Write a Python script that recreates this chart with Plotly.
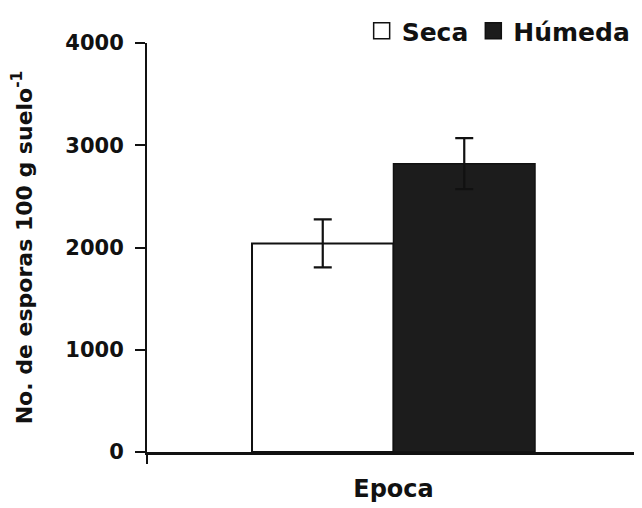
import plotly.graph_objects as go

# Data
categories = ["Epoca"]
series_names = ["Seca", "Húmeda"]
seca_values = [2040]
humeda_values = [2820]
seca_err = [235]
humeda_err = [250]
y_tickvals = [0, 1000, 2000, 3000, 4000]
y_ticktext = ["0", "1000", "2000", "3000", "4000"]
x_title = "Epoca"
y_title = "No. de esporas 100 g suelo<sup>-1</sup>"

FONT = "DejaVu Sans"
INK = "#111111"
SECA_FILL = "white"
HUMEDA_FILL = "#1c1c1c"

fig = go.Figure()
fig.add_trace(go.Bar(
    x=[0], y=seca_values, name=series_names[0], showlegend=False, legendgroup="s",
    marker=dict(color=SECA_FILL, line=dict(color=INK, width=2)),
    error_y=dict(type="data", array=seca_err, visible=True, color=INK, thickness=2.2, width=9),
))
fig.add_trace(go.Bar(
    x=[0], y=humeda_values, name=series_names[1], showlegend=False, legendgroup="h",
    marker=dict(color=HUMEDA_FILL, line=dict(color=INK, width=1.5)),
    error_y=dict(type="data", array=humeda_err, visible=True, color=INK, thickness=2.2, width=9),
))
# legend entries (larger square swatches)
fig.add_trace(go.Scatter(
    x=[None], y=[None], mode="markers", name=series_names[0], legendgroup="s",
    marker=dict(symbol="square", size=16, color=SECA_FILL, line=dict(color=INK, width=1.5)),
))
fig.add_trace(go.Scatter(
    x=[None], y=[None], mode="markers", name=series_names[1], legendgroup="h",
    marker=dict(symbol="square", size=16, color=HUMEDA_FILL, line=dict(color=INK, width=1.5)),
))

# page body has an 8px margin, so the figure is 8px smaller than the window
fig.update_layout(
    width=634, height=500,
    barmode="group", bargap=0.426, bargroupgap=0,
    plot_bgcolor="white", paper_bgcolor="white",
    margin=dict(l=139, r=2, t=35, b=56, autoexpand=False),
    font=dict(family=FONT, color=INK, size=20),
    showlegend=True,
    legend=dict(
        orientation="h", x=0.99, xanchor="right", xref="container",
        y=1.0, yanchor="top", yref="container",
        font=dict(family=FONT, size=25, weight="bold", color=INK),
        itemwidth=30, tracegroupgap=0, bgcolor="rgba(0,0,0,0)",
    ),
    xaxis=dict(
        range=[-0.5, 0.5], tickvals=[-0.5, 0.5], showticklabels=False,
        ticks="outside", ticklen=9, tickwidth=2, tickcolor=INK,
        showline=True, linecolor=INK, linewidth=2.5, showgrid=False, zeroline=False,
        automargin=False,
        title=dict(text=x_title, font=dict(family=FONT, size=24, weight="bold", color=INK), standoff=18),
    ),
    yaxis=dict(
        range=[0, 4000], tickvals=y_tickvals, ticktext=y_ticktext,
        ticks="outside", ticklen=10, tickwidth=2, tickcolor=INK, ticklabelstandoff=7,
        showline=True, linecolor=INK, linewidth=2, showgrid=False, zeroline=False,
        automargin=False,
        tickfont=dict(family=FONT, size=21, weight="bold", color=INK),
        title=dict(text=y_title, font=dict(family=FONT, size=22, weight="bold", color=INK), standoff=27),
    ),
)

fig.write_html("out.html")
